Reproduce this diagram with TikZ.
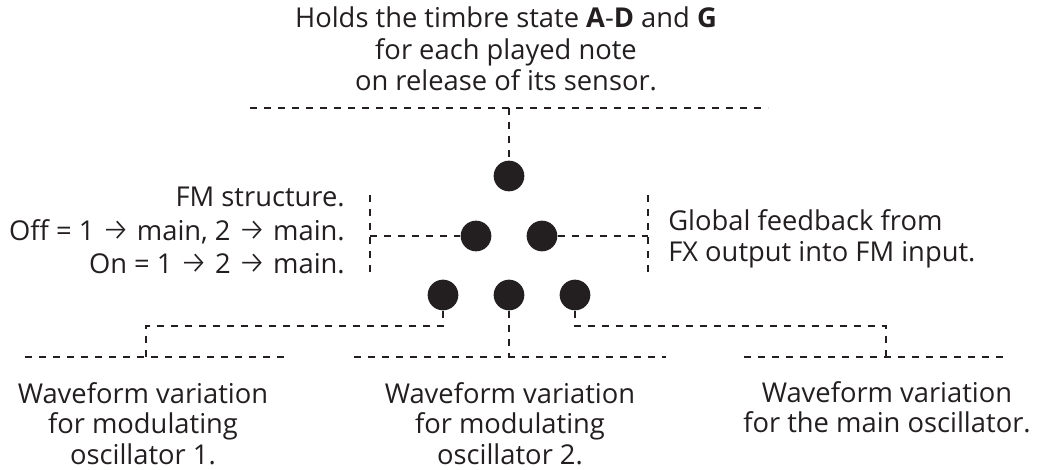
\documentclass[tikz,border=0pt]{standalone}
\usepackage{fontspec}
\usepackage{graphicx}
\setmainfont{Open Sans}
\newfontfamily\arrowfont{Fira Sans Light}
\newcommand{\toarrow}{\scalebox{1.15}{\arrowfont\char"2192}}
\usetikzlibrary{positioning}
\definecolor{ink}{HTML}{231F20}
\tikzset{
  dot/.style={circle,fill=ink,inner sep=0pt,minimum size=23pt},
  guide/.style={draw=ink,line width=1.2pt,dash pattern=on 5.6pt off 4.9pt},
  lbl/.style={font=\fontsize{20.5}{23.5}\selectfont,text=ink,inner sep=0pt}
}

\begin{document}
\begin{tikzpicture}[x=0.75pt,y=-0.75pt]
    \useasboundingbox (0,0) rectangle (1040,470);
    % sensor dots
    \node[dot] (g) at (509,176) {};
    \node[dot] (fm) at (476,236) {};
    \node[dot] (fb) at (542,236) {};
    \node[dot] (w1) at (443,295) {};
    \node[dot] (w2) at (509,295) {};
    \node[dot] (w3) at (575,295) {};
    % texts
    \node[lbl,align=center] (hold) at (506,49) {Holds the timbre state \textbf{A}-\textbf{D} and \textbf{G}\\for each played note\\on release of its sensor.};
    \node[lbl,font=\fontsize{20.5}{25}\selectfont,align=right,anchor=east] (fmtext) at (345,230.5) {FM structure.\\Off = 1 \toarrow{} main, 2 \toarrow{} main.\\On = 1 \toarrow{} 2 \toarrow{} main.};
    \node[lbl,align=left,anchor=west] (fbtext) at (668,238.5) {Global feedback from\\FX output into FM input.};
    \node[lbl,font=\fontsize{20.5}{23}\selectfont,align=center,anchor=north] (t1) at (143,382) {Waveform variation\\for modulating\\oscillator 1.};
    \node[lbl,font=\fontsize{20.5}{23}\selectfont,align=center,anchor=north] (t2) at (510,382) {Waveform variation\\for modulating\\oscillator 2.};
    \node[lbl,font=\fontsize{20.5}{23}\selectfont,align=center,anchor=north] (t3) at (887,381) {Waveform variation\\for the main oscillator.};
    % guide lines
    \coordinate (topbar) at (509,108);
    \draw[guide] (250,108) -- (768,108);
    \draw[guide] (topbar) -- (g);
    \coordinate (lbar) at (370,236);
    \draw[guide] (370,195) -- (370,275);
    \draw[guide] (lbar) -- (fm);
    \coordinate (rbar) at (648,236);
    \draw[guide] (648,195) -- (648,275);
    \draw[guide] (fb) -- (rbar);
    \coordinate (b1) at (146,357);
    \coordinate (b2) at (509,357);
    \coordinate (b3) at (886,357);
    \draw[guide] (25,357) -- (290,357);
    \draw[guide] (354,357) -- (666,357);
    \draw[guide] (744,357) -- (1005,357);
    \draw[guide] (w1) |- (146,326) -- (b1);
    \draw[guide] (w2) -- (b2);
    \draw[guide] (w3) |- (886,326) -- (b3);
\end{tikzpicture}
\end{document}
